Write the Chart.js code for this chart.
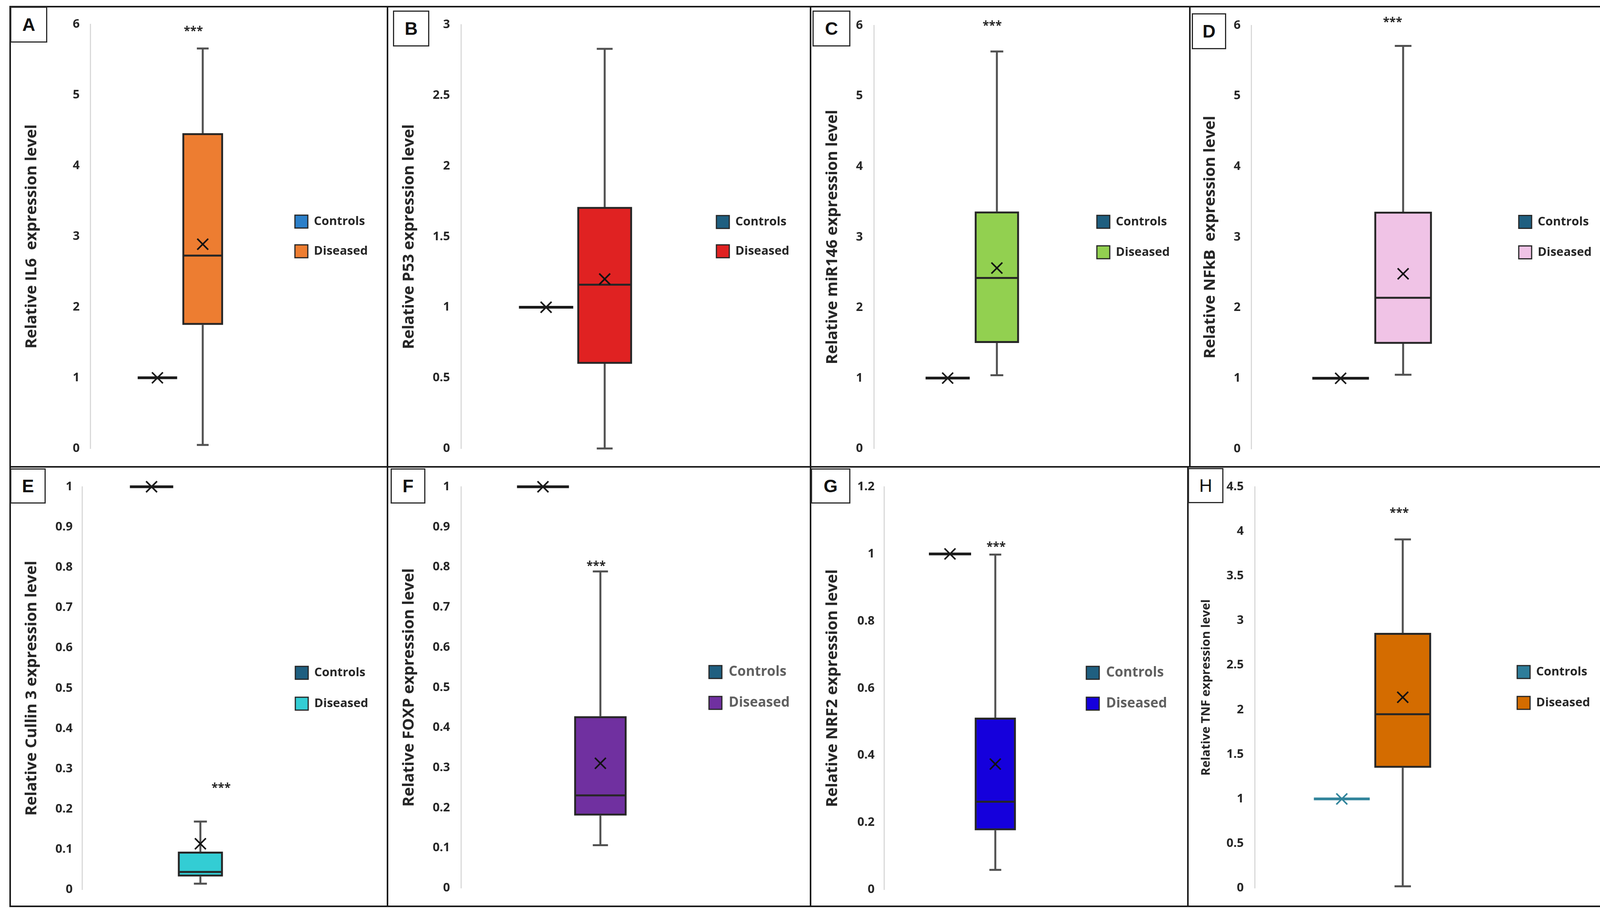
<!DOCTYPE html>
<html>
<head>
<meta charset="utf-8">
<script src="https://cdn.jsdelivr.net/npm/chart.js@4.4.1/dist/chart.umd.min.js"></script>
<style>
  html, body { margin: 0; padding: 0; background: #fff; }
  body { width: 4144px; height: 2355px; position: relative; overflow: hidden; }
  .frame { position: absolute; border: 4px solid #1a1a1a; box-sizing: border-box; pointer-events: none; }
  .tag {
    position: absolute; box-sizing: border-box; border: 3px solid #2a2a2a; background: #fff;
    font-family: "Liberation Sans", Arial, sans-serif; font-size: 46px; color: #111;
    display: flex; align-items: center; justify-content: center;
  }
</style>
</head>
<body>
<script>
// ---- data ----
const letters = ['A', 'B', 'C', 'D', 'E', 'F', 'G', 'H'];
const seriesNames = ['Controls', 'Diseased'];
const yTitles = [
  'Relative IL6  expression level',
  'Relative P53 expression level',
  'Relative miR146 expression level',
  'Relative NFkB  expression level',
  'Relative Cullin 3 expression level',
  'Relative FOXP expression level',
  'Relative NRF2 expression level',
  'Relative TNF expression level'
];
const yTickLabels = [
  ['0', '1', '2', '3', '4', '5', '6'],
  ['0', '0.5', '1', '1.5', '2', '2.5', '3'],
  ['0', '1', '2', '3', '4', '5', '6'],
  ['0', '1', '2', '3', '4', '5', '6'],
  ['0', '0.1', '0.2', '0.3', '0.4', '0.5', '0.6', '0.7', '0.8', '0.9', '1'],
  ['0', '0.1', '0.2', '0.3', '0.4', '0.5', '0.6', '0.7', '0.8', '0.9', '1'],
  ['0', '0.2', '0.4', '0.6', '0.8', '1', '1.2'],
  ['0', '0.5', '1', '1.5', '2', '2.5', '3', '3.5', '4', '4.5']
];

// controls are normalised to 1 (every statistic sits at 1)
const controlValue = [1, 1, 1, 1, 1, 1, 1, 1];

const disMin    = [0.05, 0,    1.04, 1.05, 0.015, 0.107, 0.059, 0.02];
const disQ1     = [1.75, 0.60, 1.50, 1.49, 0.033, 0.181, 0.177, 1.35];
const disMedian = [2.73, 1.16, 2.42, 2.14, 0.044, 0.231, 0.262, 1.95];
const disQ3     = [4.46, 1.71, 3.36, 3.36, 0.094, 0.428, 0.512, 2.86];
const disMax    = [5.66, 2.83, 5.63, 5.71, 0.169, 0.789, 0.998, 3.91];
const disMean   = [2.89, 1.20, 2.56, 2.48, 0.114, 0.311, 0.374, 2.14];

// level where the significance mark sits (B has none)
const starAt = [5.95, null, 6.04, 6.09, 0.26, 0.81, 1.03, 4.24];
const starText = '***';

// ---- styles ----
const FONT = '"Open Sans", sans-serif';
const EDGE = '#262626';
const WHISKER = '#505050';
const controlColors = ['#2b7fc9', '#1f5f80', '#1f5f80', '#1f5f80', '#1f5f80', '#1f5f80', '#1f5f80', '#2e7d9a'];
const controlEdge   = ['#1a1a1a', '#1a1a1a', '#1a1a1a', '#1a1a1a', '#1a1a1a', '#1a1a1a', '#1a1a1a', '#31849b'];
const diseasedColors = ['#ed7d31', '#e02222', '#92d050', '#f0c3e6', '#33cdd4', '#7030a0', '#1500dc', '#d46c00'];
const legendColors = ['#262626', '#262626', '#262626', '#262626', '#262626', '#606060', '#606060', '#262626'];

// ---- page layout (page pixels) ----
// frame: l,t,r,b | axis: x of y-axis line | lab: right edge of tick labels | tcx: title centre
// top/bot: pixel of axis max / 0 | c0,w0 / c1,w1: centre and width of each box
// leg: left of legend swatches | tag: letter box x,y,w,h | sdx: star shift
const layoutSpec = [
  {frame: [26, 17, 992, 1195],    axis: 231,  lab: 204,  tcx: 82,   top: 61,   bot: 1148, c0: 403,  w0: 101, c1: 519,  w1: 104, leg: 755,  legSize: 31, legStep: 76, titleSize: 40, tag: [26, 17, 95, 92],     sdx: -24, bold: true},
  {frame: [992, 17, 2075, 1195],  axis: 1180, lab: 1152, tcx: 1048, top: 61,   bot: 1148, c0: 1398, w0: 139, c1: 1548, w1: 140, leg: 1834, legSize: 31, legStep: 75, titleSize: 40, tag: [1006, 27, 93, 92],   sdx: 0,   bold: true},
  {frame: [2075, 17, 3046, 1195], axis: 2237, lab: 2209, tcx: 2132, top: 65,   bot: 1149, c0: 2426, w0: 113, c1: 2552, w1: 113, leg: 2808, legSize: 31, legStep: 78, titleSize: 40, tag: [2080, 27, 97, 92],   sdx: -12, bold: true},
  {frame: [3046, 17, 4124, 1195], axis: 3203, lab: 3176, tcx: 3099, top: 65,   bot: 1149, c0: 3432, w0: 145, c1: 3592, w1: 147, leg: 3888, legSize: 31, legStep: 78, titleSize: 40, tag: [3051, 34, 88, 92],   sdx: -27, bold: true},
  {frame: [26, 1195, 992, 2320],  axis: 210,  lab: 186,  tcx: 82,   top: 1246, bot: 2278, c0: 388,  w0: 111, c1: 513,  w1: 115, leg: 756,  legSize: 31, legStep: 79, titleSize: 40, tag: [26, 1199, 91, 90],   sdx: 53,  bold: true},
  {frame: [992, 1195, 2075, 2320], axis: 1180, lab: 1152, tcx: 1048, top: 1246, bot: 2278, c0: 1390, w0: 133, c1: 1537, w1: 134, leg: 1815, legSize: 35, legStep: 79, titleSize: 40, tag: [1000, 1199, 89, 90], sdx: -11, bold: true},
  {frame: [2075, 1195, 3041, 2320], axis: 2263, lab: 2239, tcx: 2132, top: 1246, bot: 2278, c0: 2432, w0: 108, c1: 2548, w1: 105, leg: 2781, legSize: 35, legStep: 79, titleSize: 40, tag: [2076, 1199, 101, 90], sdx: 2,  bold: true},
  {frame: [3041, 1195, 4122, 2320], axis: 3212, lab: 3184, tcx: 3088, top: 1246, bot: 2278, c0: 3435, w0: 143, c1: 3591, w1: 145, leg: 3884, legSize: 31, legStep: 79, titleSize: 31, tag: [3041, 1198, 91, 90], sdx: -9, bold: false}
];

const BOX = 33;
const measureCtx = document.createElement('canvas').getContext('2d');
function textWidth(str, font) {
  measureCtx.font = font;
  return measureCtx.measureText(str).width;
}

// whiskers, medians, mean markers and stars, drawn from the chart's own scales
function boxStatsPlugin(i, L) {
  return {
    id: 'boxStats',
    afterDatasetsDraw(chart) {
      const ctx = chart.ctx;
      const yScale = chart.scales.y;
      const py = v => yScale.getPixelForValue(v);
      const c = controlValue[i];
      const stats = [
        {min: c, q1: c, med: c, q3: c, max: c, mean: c},
        {min: disMin[i], q1: disQ1[i], med: disMedian[i], q3: disQ3[i], max: disMax[i], mean: disMean[i]}
      ];
      const seg = (x1, y1, x2, y2) => {
        ctx.beginPath();
        ctx.moveTo(x1, y1);
        ctx.lineTo(x2, y2);
        ctx.stroke();
      };
      ctx.save();
      ctx.lineCap = 'butt';
      stats.forEach((s, d) => {
        const bar = chart.getDatasetMeta(d).data[0];
        if (!bar) return;
        const x = bar.x, half = bar.width / 2, cap = bar.width * 0.145;
        ctx.strokeStyle = WHISKER;
        ctx.lineWidth = 5;
        if (s.max > s.q3) {
          seg(x, py(s.q3), x, py(s.max));
          seg(x - cap, py(s.max), x + cap, py(s.max));
        }
        if (s.min < s.q1) {
          seg(x, py(s.q1), x, py(s.min));
          seg(x - cap, py(s.min), x + cap, py(s.min));
        }
        if (s.q3 === s.q1) {
          // collapsed box: a thick bar
          ctx.strokeStyle = d === 0 ? controlEdge[i] : EDGE;
          ctx.lineWidth = 7;
          seg(x - half, py(s.q1), x + half, py(s.q1));
        } else {
          ctx.strokeStyle = EDGE;
          ctx.lineWidth = 5;
          seg(x - half + 2, py(s.med), x + half - 2, py(s.med));
        }
        const m = 14, my = py(s.mean);
        ctx.strokeStyle = d === 0 ? controlEdge[i] : '#111';
        ctx.lineWidth = 4;
        seg(x - m, my - m, x + m, my + m);
        seg(x - m, my + m, x + m, my - m);
      });
      if (starAt[i] !== null) {
        const bar = chart.getDatasetMeta(1).data[0];
        ctx.font = '700 30px ' + FONT;
        ctx.fillStyle = EDGE;
        ctx.textAlign = 'center';
        ctx.textBaseline = 'alphabetic';
        ctx.fillText(starText, bar.x + L.sdx, py(starAt[i]) + 17);
      }
      ctx.restore();
    }
  };
}

letters.forEach((letter, i) => {
  const L = layoutSpec[i];
  const [l, t, r, b] = L.frame;
  const W = r - l, H = b - t;

  const canvas = document.createElement('canvas');
  canvas.width = W;
  canvas.height = H;
  canvas.style.cssText = `position:absolute;left:${l}px;top:${t}px;width:${W}px;height:${H}px;`;
  document.body.appendChild(canvas);

  // legend geometry: gap to plot and row step both come from labels.padding
  const legPad = L.legStep - Math.max(L.legSize, BOX);
  const legFontStr = `700 ${L.legSize}px ${FONT}`;
  const legText = Math.max(...seriesNames.map(s => textWidth(s, legFontStr)));
  const legendW = legPad + BOX + L.legSize / 2 + legText + 10;
  const areaRight = L.leg - legPad - l;
  const padRight = Math.max(0, W - areaRight - legendW);

  const axisW = L.axis - l;
  const areaW = areaRight - axisW;
  const unit = L.c1 - L.c0;
  const xMin = -(L.c0 - L.axis) / unit;
  const xMax = xMin + areaW / unit;

  const labels = yTickLabels[i];
  const titleLine = L.titleSize * 1.2;

  new Chart(canvas, {
    type: 'bar',
    data: {
      datasets: [
        {
          label: seriesNames[0],
          data: [{x: 0, y: [controlValue[i], controlValue[i]]}],
          backgroundColor: controlColors[i],
          borderColor: EDGE,
          borderWidth: 5,
          borderSkipped: false,
          barThickness: L.w0,
          grouped: false
        },
        {
          label: seriesNames[1],
          data: [{x: 1, y: [disQ1[i], disQ3[i]]}],
          backgroundColor: diseasedColors[i],
          borderColor: EDGE,
          borderWidth: 5,
          borderSkipped: false,
          barThickness: L.w1,
          grouped: false
        }
      ]
    },
    options: {
      responsive: false,
      maintainAspectRatio: false,
      animation: false,
      events: [],
      layout: {
        padding: {top: L.top - t, bottom: b - L.bot, left: 0, right: padRight}
      },
      plugins: {
        tooltip: {enabled: false},
        legend: {
          position: 'right',
          fullSize: false,
          maxWidth: 1000,
          labels: {
            boxWidth: BOX,
            boxHeight: BOX,
            padding: legPad,
            color: legendColors[i],
            font: {family: FONT, size: L.legSize, weight: '700'},
            generateLabels(chart) {
              const items = Chart.defaults.plugins.legend.labels.generateLabels(chart);
              items.forEach(it => { it.lineWidth = 3; it.strokeStyle = EDGE; });
              return items;
            }
          }
        }
      },
      scales: {
        x: {
          type: 'linear',
          display: false,
          bounds: 'data',
          offset: false,
          min: xMin,
          max: xMax,
          grid: {display: false}
        },
        y: {
          min: 0,
          max: Number(labels[labels.length - 1]),
          afterFit(scale) { scale.width = axisW; },
          ticks: {
            stepSize: Number(labels[1]),
            padding: L.axis - L.lab,
            color: EDGE,
            font: {family: FONT, size: 31, weight: '700'},
            callback: (value, index) => labels[index] ?? ''
          },
          grid: {display: false, drawTicks: false},
          border: {display: true, color: '#d9d9d9', width: 3},
          title: {
            display: true,
            text: yTitles[i],
            color: EDGE,
            font: {family: FONT, size: L.titleSize, weight: '700'},
            padding: {top: Math.max(0, L.tcx - l - titleLine / 2), bottom: 0}
          }
        }
      }
    },
    plugins: [boxStatsPlugin(i, L)]
  });

  const frame = document.createElement('div');
  frame.className = 'frame';
  frame.style.cssText = `left:${l - 2}px;top:${t - 2}px;width:${W + 4}px;height:${H + 4}px;`;
  document.body.appendChild(frame);

  const [tx, ty, tw, th] = L.tag;
  const tag = document.createElement('div');
  tag.className = 'tag';
  tag.textContent = letter;
  tag.style.cssText = `left:${tx}px;top:${ty}px;width:${tw}px;height:${th}px;font-weight:${L.bold ? 700 : 400};`;
  document.body.appendChild(tag);
});
</script>
</body>
</html>
